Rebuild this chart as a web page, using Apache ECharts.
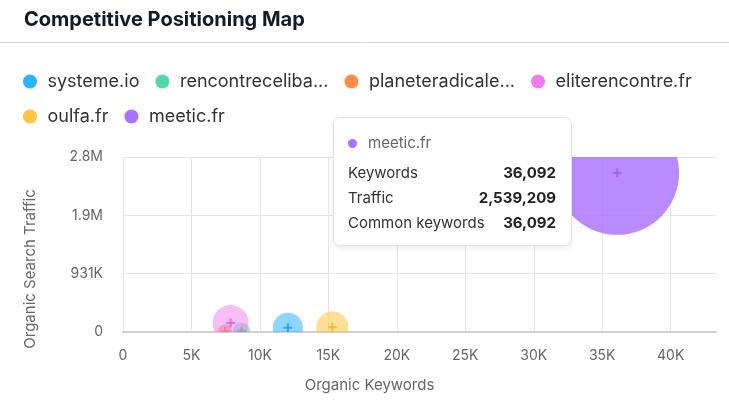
<!DOCTYPE html>
<html>
<head>
<meta charset="utf-8">
<script src="https://cdn.jsdelivr.net/npm/echarts@6/dist/echarts.min.js"></script>
<style>
html,body{margin:0;padding:0;background:#fff;}
#c{width:729px;height:410px;}
</style>
</head>
<body>
<div id="c"></div>
<script>
// ---- data ----
const domains = ['systeme.io', 'rencontreceliba...', 'planeteradicale...', 'eliterencontre.fr', 'oulfa.fr', 'meetic.fr'];
const keywords = [12044, 8660, 7450, 7860, 15290, 36092];
const traffic = [68600, 12000, 9000, 143600, 75000, 2539209];
const commonKeywords = [2110, 680, 460, 3040, 2400, 36092];
const xTickStep = 5000;

// ---- styles ----
const colors = ['#2db4ff', '#55d8a6', '#ff8b45', '#f07cf0', '#ffc43f', '#a972ff'];
const bubbleOpacity = [0.55, 0.55, 0.55, 0.5, 0.55, 0.82];
const crossColors = ['#1e9ff0', '#35c08c', '#f07a30', '#e35ee3', '#f5b020', '#9a5ff5'];
const FONT = 'Inter, "Noto Sans", sans-serif';

const yMaxRaw = Math.max(...traffic) * 1.1;
const yInterval = Math.round(yMaxRaw / 3);
const yMax = yInterval * 3;
const xMax = Math.max(...keywords) * 1.2;

function fmtAxis(v) {
  if (v >= 1e6) return (v / 1e6).toFixed(1) + 'M';
  if (v >= 1e3) return Math.round(v / 1e3) + 'K';
  return String(v);
}
const fmtNum = v => v.toLocaleString('en-US');
const radiusOf = c => 0.326 * Math.sqrt(c);

const chart = echarts.init(document.getElementById('c'), null, {renderer: 'canvas'});

const bubbleSeries = domains.map((d, i) => ({
  name: d,
  type: 'custom',
  clip: true,
  z: 2,
  itemStyle: {color: colors[i]},
  emphasis: {disabled: true},
  encode: {x: 0, y: 1},
  data: [[keywords[i], traffic[i], commonKeywords[i]]],
  renderItem: function (params, api) {
    const p = api.coord([api.value(0), api.value(1)]);
    const r = radiusOf(api.value(2));
    return {
      type: 'group',
      children: [
        {
          type: 'circle',
          shape: {cx: p[0], cy: p[1], r: r},
          style: {fill: colors[i], opacity: bubbleOpacity[i]}
        },
        {
          type: 'rect',
          shape: {x: p[0] - 4.5, y: p[1] - 1, width: 9, height: 2},
          style: {fill: crossColors[i], opacity: 0.85}
        },
        {
          type: 'rect',
          shape: {x: p[0] - 1, y: p[1] - 4.5, width: 2, height: 9},
          style: {fill: crossColors[i], opacity: 0.85}
        }
      ]
    };
  }
}));

const option = {
  animation: false,
  textStyle: {fontFamily: FONT},
  title: {
    text: 'Competitive Positioning Map',
    left: 19, top: 5,
    textStyle: {fontFamily: FONT, fontSize: 20, fontWeight: 'bold', color: '#161a28'}
  },
  graphic: [{
    type: 'line',
    shape: {x1: 0, y1: 42.5, x2: 729, y2: 42.5},
    style: {stroke: '#d4d4d4', lineWidth: 1}
  }],
  legend: {
    data: domains,
    left: 18, top: 67, width: 705,
    icon: 'circle',
    itemWidth: 25, itemHeight: 14, itemGap: 16,
    selectedMode: false,
    textStyle: {fontFamily: FONT, fontSize: 18, color: '#333', lineHeight: 19}
  },
  grid: {left: 123, right: 13, top: 157, bottom: 78, containLabel: false},
  xAxis: {
    type: 'value', min: 0, max: xMax, interval: xTickStep,
    name: 'Organic Keywords', nameLocation: 'middle', nameGap: 46,
    nameTextStyle: {fontFamily: FONT, fontSize: 15, color: '#666', padding: [0, 100, 0, 0]},
    axisLine: {show: true, lineStyle: {color: '#d0d0d0', width: 2}},
    axisTick: {show: false},
    axisLabel: {fontFamily: FONT, fontSize: 14, color: '#666', margin: 17, formatter: fmtAxis, showMaxLabel: false},
    splitLine: {show: true, showMaxLine: false, lineStyle: {color: '#e6e6e6'}}
  },
  yAxis: {
    type: 'value', min: 0, max: yMax, interval: yInterval,
    name: 'Organic Search Traffic', nameLocation: 'middle', nameGap: 85,
    nameTextStyle: {fontFamily: FONT, fontSize: 15, color: '#666', padding: [0, 0, 0, -49]},
    axisLine: {show: false},
    axisTick: {show: false},
    axisLabel: {fontFamily: FONT, fontSize: 14, color: '#666', margin: 20, formatter: fmtAxis},
    splitLine: {show: true, lineStyle: {color: '#e6e6e6'}}
  },
  tooltip: {
    trigger: 'item',
    triggerOn: 'none',
    alwaysShowContent: true,
    position: [333, 117],
    padding: 0,
    borderWidth: 0,
    backgroundColor: 'transparent',
    extraCssText: 'box-shadow:none;',
    formatter: function (p) {
      const i = p.seriesIndex;
      const row = (l, v) => '<div style="display:flex;justify-content:space-between;height:25px;line-height:25px;"><span>' + l + '</span><b style="color:#222;">' + v + '</b></div>';
      return '<div style="box-sizing:border-box;width:239px;height:129px;padding:11px 15px 0 14px;background:#fff;border:1px solid #e3e3e3;border-radius:7px;box-shadow:0 2px 6px rgba(0,0,0,0.08);font-family:Inter,\'Noto Sans\',sans-serif;font-size:15px;color:#333;">' +
        '<div style="height:27px;line-height:27px;color:#666;margin-bottom:4px;"><span style="display:inline-block;width:9px;height:9px;border-radius:50%;background:' + colors[i] + ';margin:0 11px 1px 0;vertical-align:middle;"></span>' + domains[i] + '</div>' +
        row('Keywords', fmtNum(keywords[i])) +
        row('Traffic', fmtNum(traffic[i])) +
        row('Common keywords', fmtNum(commonKeywords[i])) +
        '</div>';
    }
  },
  series: bubbleSeries
};

chart.setOption(option);
chart.dispatchAction({type: 'showTip', seriesIndex: 5, dataIndex: 0});
</script>
</body>
</html>
